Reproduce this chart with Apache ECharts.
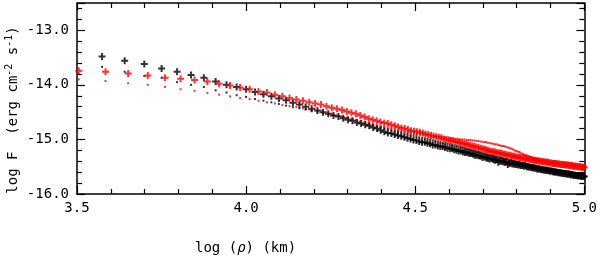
<!DOCTYPE html>
<html><head><meta charset="utf-8">
<script src="https://cdn.jsdelivr.net/npm/echarts@6/dist/echarts.min.js"></script>
<style>html,body{margin:0;padding:0;background:#fff}#c{width:600px;height:258px}</style>
</head><body><div id="c"></div>
<script>
// projected distance rho (km) of the black series
const blackRho = [3750,4375,5000,5625,6250,6875,7500,8125,8750,9375,
10000,10625,11250,11875,12500,13125,13750,14375,15000,15625,
16250,16875,17500,18125,18750,19375,20000,20625,21250,21875,
22500,23125,23750,24375,25000,25625,26250,26875,27500,28125,
28750,29375,30000,30625,31250,31875,32500,33125,33750,34375,
35000,35625,36250,36875,37500,38125,38750,39375,40000,40625,
41250,41875,42500,43125,43750,44375,45000,45625,46250,46875,
47500,48125,48750,49375,50000,50625,51250,51875,52500,53125,
53750,54375,55000,55625,56250,56875,57500,58125,58750,59375,
60000,60625,61250,61875,62500,63125,63750,64375,65000,65625,
66250,66875,67500,68125,68750,69375,70000,70625,71250,71875,
72500,73125,73750,74375,75000,75625,76250,76875,77500,78125,
78750,79375,80000,80625,81250,81875,82500,83125,83750,84375,
85000,85625,86250,86875,87500,88125,88750,89375,90000,90625,
91250,91875,92500,93125,93750,94375,95000,95625,96250,96875,
97500,98125,98750,99375,100000];
// log F, black crosses
const blackPlusF = [-13.48,-13.56,-13.62,-13.70,-13.76,-13.82,-13.87,-13.94,-14.00,-14.04,
-14.08,-14.13,-14.17,-14.21,-14.25,-14.28,-14.33,-14.36,-14.40,-14.44,
-14.47,-14.50,-14.53,-14.56,-14.58,-14.61,-14.64,-14.66,-14.69,-14.71,
-14.73,-14.75,-14.78,-14.80,-14.83,-14.86,-14.88,-14.89,-14.91,-14.93,
-14.94,-14.96,-14.98,-14.99,-15.01,-15.02,-15.04,-15.05,-15.05,-15.07,
-15.08,-15.10,-15.10,-15.12,-15.13,-15.13,-15.15,-15.16,-15.17,-15.17,
-15.19,-15.20,-15.21,-15.21,-15.23,-15.24,-15.24,-15.26,-15.26,-15.27,
-15.29,-15.29,-15.30,-15.31,-15.33,-15.32,-15.34,-15.35,-15.36,-15.35,
-15.37,-15.38,-15.37,-15.42,-15.40,-15.40,-15.41,-15.42,-15.41,-15.46,
-15.44,-15.43,-15.45,-15.45,-15.46,-15.46,-15.47,-15.47,-15.48,-15.48,
-15.49,-15.48,-15.50,-15.50,-15.51,-15.51,-15.52,-15.52,-15.53,-15.53,
-15.54,-15.54,-15.54,-15.55,-15.55,-15.56,-15.56,-15.57,-15.56,-15.57,
-15.58,-15.58,-15.58,-15.59,-15.59,-15.60,-15.59,-15.60,-15.61,-15.61,
-15.61,-15.62,-15.62,-15.62,-15.63,-15.63,-15.63,-15.64,-15.63,-15.64,
-15.65,-15.64,-15.65,-15.66,-15.65,-15.66,-15.66,-15.67,-15.66,-15.67,
-15.67,-15.68,-15.67,-15.68,-15.68];
// log F, black dots
const blackDotF = [-13.67,-13.76,-13.84,-13.87,-13.95,-14.00,-14.04,-14.10,-14.14,-14.19,
-14.22,-14.26,-14.29,-14.32,-14.35,-14.38,-14.41,-14.43,-14.45,-14.47,
-14.49,-14.51,-14.53,-14.55,-14.57,-14.59,-14.61,-14.63,-14.65,-14.67,
-14.69,-14.71,-14.73,-14.75,-14.77,-14.79,-14.81,-14.82,-14.84,-14.86,
-14.87,-14.89,-14.90,-14.92,-14.93,-14.94,-14.96,-14.97,-14.98,-14.99,
-15.00,-15.02,-15.03,-15.04,-15.05,-15.06,-15.07,-15.08,-15.09,-15.10,
-15.11,-15.12,-15.13,-15.14,-15.15,-15.16,-15.17,-15.18,-15.19,-15.20,
-15.21,-15.22,-15.23,-15.24,-15.25,-15.26,-15.27,-15.28,-15.29,-15.29,
-15.30,-15.31,-15.32,-15.33,-15.33,-15.34,-15.35,-15.36,-15.36,-15.37,
-15.38,-15.38,-15.39,-15.40,-15.40,-15.41,-15.42,-15.42,-15.43,-15.43,
-15.44,-15.45,-15.45,-15.46,-15.46,-15.47,-15.47,-15.48,-15.48,-15.49,
-15.49,-15.50,-15.50,-15.51,-15.51,-15.52,-15.52,-15.52,-15.53,-15.53,
-15.54,-15.54,-15.54,-15.55,-15.55,-15.56,-15.56,-15.56,-15.57,-15.57,
-15.57,-15.58,-15.58,-15.58,-15.59,-15.59,-15.59,-15.60,-15.60,-15.60,
-15.61,-15.61,-15.61,-15.62,-15.62,-15.62,-15.62,-15.63,-15.63,-15.63,
-15.63,-15.64,-15.64,-15.64,-15.64];
// projected distance rho (km) of the red series
const redRho = [3200,3840,4480,5120,5760,6400,7040,7680,8320,8960,
9600,10240,10880,11520,12160,12800,13440,14080,14720,15360,
16000,16640,17280,17920,18560,19200,19840,20480,21120,21760,
22400,23040,23680,24320,24960,25600,26240,26880,27520,28160,
28800,29440,30080,30720,31360,32000,32640,33280,33920,34560,
35200,35840,36480,37120,37760,38400,39040,39680,40320,40960,
41600,42240,42880,43520,44160,44800,45440,46080,46720,47360,
48000,48640,49280,49920,50560,51200,51840,52480,53120,53760,
54400,55040,55680,56320,56960,57600,58240,58880,59520,60160,
60800,61440,62080,62720,63360,64000,64640,65280,65920,66560,
67200,67840,68480,69120,69760,70400,71040,71680,72320,72960,
73600,74240,74880,75520,76160,76800,77440,78080,78720,79360,
80000,80640,81280,81920,82560,83200,83840,84480,85120,85760,
86400,87040,87680,88320,88960,89600,90240,90880,91520,92160,
92800,93440,94080,94720,95360,96000,96640,97280,97920,98560,
99200,99840];
// log F, red crosses
const redPlusF = [-13.74,-13.76,-13.79,-13.83,-13.87,-13.89,-13.91,-13.94,-13.98,-14.01,
-14.05,-14.08,-14.12,-14.14,-14.18,-14.21,-14.24,-14.27,-14.29,-14.32,
-14.34,-14.36,-14.39,-14.42,-14.44,-14.46,-14.49,-14.51,-14.53,-14.56,
-14.59,-14.62,-14.64,-14.66,-14.68,-14.70,-14.71,-14.73,-14.75,-14.77,
-14.79,-14.80,-14.82,-14.84,-14.85,-14.86,-14.87,-14.88,-14.90,-14.91,
-14.93,-14.94,-14.95,-14.96,-14.97,-14.99,-15.00,-15.01,-15.02,-15.03,
-15.04,-15.05,-15.06,-15.07,-15.08,-15.09,-15.10,-15.11,-15.12,-15.13,
-15.14,-15.15,-15.16,-15.17,-15.18,-15.19,-15.20,-15.21,-15.22,-15.22,
-15.23,-15.24,-15.25,-15.25,-15.26,-15.27,-15.27,-15.28,-15.29,-15.29,
-15.30,-15.31,-15.31,-15.32,-15.32,-15.33,-15.33,-15.34,-15.34,-15.35,
-15.35,-15.36,-15.36,-15.37,-15.37,-15.38,-15.38,-15.39,-15.39,-15.39,
-15.40,-15.40,-15.41,-15.41,-15.41,-15.42,-15.42,-15.42,-15.43,-15.43,
-15.43,-15.44,-15.44,-15.44,-15.44,-15.45,-15.45,-15.45,-15.46,-15.46,
-15.46,-15.46,-15.47,-15.47,-15.47,-15.47,-15.48,-15.48,-15.48,-15.48,
-15.49,-15.49,-15.49,-15.49,-15.50,-15.50,-15.50,-15.50,-15.51,-15.51,
-15.51,-15.51];
// log F, red dots
const redDotF = [-13.90,-13.93,-13.97,-14.00,-14.04,-14.08,-14.11,-14.15,-14.18,-14.21,
-14.24,-14.26,-14.29,-14.32,-14.34,-14.37,-14.39,-14.41,-14.43,-14.45,
-14.46,-14.48,-14.51,-14.53,-14.56,-14.58,-14.60,-14.62,-14.64,-14.66,
-14.68,-14.70,-14.72,-14.74,-14.76,-14.77,-14.79,-14.80,-14.82,-14.83,
-14.84,-14.86,-14.87,-14.88,-14.89,-14.90,-14.91,-14.91,-14.92,-14.93,
-14.93,-14.94,-14.94,-14.95,-14.96,-14.96,-14.97,-14.97,-14.98,-14.98,
-14.99,-14.99,-15.00,-15.00,-15.00,-15.01,-15.01,-15.01,-15.02,-15.02,
-15.03,-15.03,-15.04,-15.04,-15.05,-15.05,-15.06,-15.07,-15.07,-15.08,
-15.09,-15.09,-15.10,-15.11,-15.12,-15.12,-15.13,-15.14,-15.15,-15.16,
-15.17,-15.18,-15.20,-15.21,-15.22,-15.23,-15.24,-15.26,-15.27,-15.28,
-15.29,-15.30,-15.31,-15.32,-15.33,-15.34,-15.34,-15.35,-15.36,-15.37,
-15.37,-15.38,-15.38,-15.39,-15.39,-15.40,-15.40,-15.41,-15.41,-15.42,
-15.42,-15.42,-15.43,-15.43,-15.43,-15.44,-15.44,-15.44,-15.45,-15.45,
-15.45,-15.46,-15.46,-15.46,-15.46,-15.47,-15.47,-15.47,-15.47,-15.48,
-15.48,-15.48,-15.48,-15.49,-15.49,-15.49,-15.49,-15.50,-15.50,-15.50,
-15.50,-15.50];

const xRange = [3.5, 5.0];
const yRange = [-16.0, -12.5];
const yAxisTitle = '{a|log F  (erg cm}{s|-2}{a| s}{s|-1}{a|)}';
const xAxisTitle = '{a|log (}{i|ρ}{a|) (km)}';

const FONT = 'DejaVu Sans Mono';
const plusPath = 'path://M0,2.5L7,2.5L7,4.5L0,4.5Z M2.5,0L4.5,0L4.5,7L2.5,7Z';

function pts(rho, f) { return rho.map((r, i) => [Math.log10(r), f[i]]); }

function axisCommon(showLabel) {
  return {
    axisLine: { show: true, lineStyle: { color: '#000', width: 1.5 } },
    axisTick: { show: true, inside: true, length: 8, lineStyle: { color: '#000', width: 1.2 } },
    minorTick: { show: true, splitNumber: 5, length: 5, lineStyle: { color: '#000', width: 1.2 } },
    splitLine: { show: false },
    minorSplitLine: { show: false },
    axisLabel: { show: showLabel, color: '#000', fontFamily: FONT, fontSize: 14 }
  };
}

const chart = echarts.init(document.getElementById('c'), null, { renderer: 'canvas' });
const xa = (pos, show) => Object.assign({ type: 'value', position: pos, min: xRange[0], max: xRange[1], interval: 0.5 }, axisCommon(show));
const ya = (pos, show) => Object.assign({ type: 'value', position: pos, min: yRange[0], max: yRange[1], interval: 1 }, axisCommon(show));
const x0 = xa('bottom', true); x0.axisLabel.margin = 7; x0.axisLabel.formatter = v => v.toFixed(1);
const x1 = xa('top', false);
const y0 = ya('left', true); y0.axisLabel.margin = 8; y0.axisLabel.formatter = v => Number.isInteger(v) ? v.toFixed(1) : '';
const y1 = ya('right', false);

chart.setOption({
  animation: false,
  backgroundColor: '#fff',
  grid: { left: 77, right: 14, top: 3, bottom: 64 },
  xAxis: [x0, x1],
  yAxis: [y0, y1],
  series: [
    { type: 'scatter', data: pts(blackRho, blackPlusF), symbol: plusPath, symbolSize: 7, itemStyle: { color: '#000' } },
    { type: 'scatter', data: pts(blackRho, blackDotF), symbol: 'rect', symbolSize: 2, itemStyle: { color: '#000' } },
    { type: 'scatter', data: pts(redRho, redPlusF), symbol: plusPath, symbolSize: 7, itemStyle: { color: '#ff0000' } },
    { type: 'scatter', data: pts(redRho, redDotF), symbol: 'rect', symbolSize: 2, itemStyle: { color: '#ff0000' } }
  ],
  graphic: [
    { type: 'text', x: 13, y: 110, rotation: Math.PI / 2,
      style: { text: yAxisTitle, align: 'center', verticalAlign: 'middle', fill: '#000',
        rich: { a: { fontFamily: FONT, fontSize: 14, fill: '#000', lineHeight: 18 },
                s: { fontFamily: FONT, fontSize: 10, fill: '#000', verticalAlign: 'top', lineHeight: 12 } } } },
    { type: 'text', x: 195, y: 248,
      style: { text: xAxisTitle, align: 'left', verticalAlign: 'middle', fill: '#000',
        rich: { a: { fontFamily: FONT, fontSize: 14, fill: '#000' },
                i: { fontFamily: FONT, fontSize: 14, fontStyle: 'italic', fill: '#000' } } } }
  ]
});
</script>
</body></html>
